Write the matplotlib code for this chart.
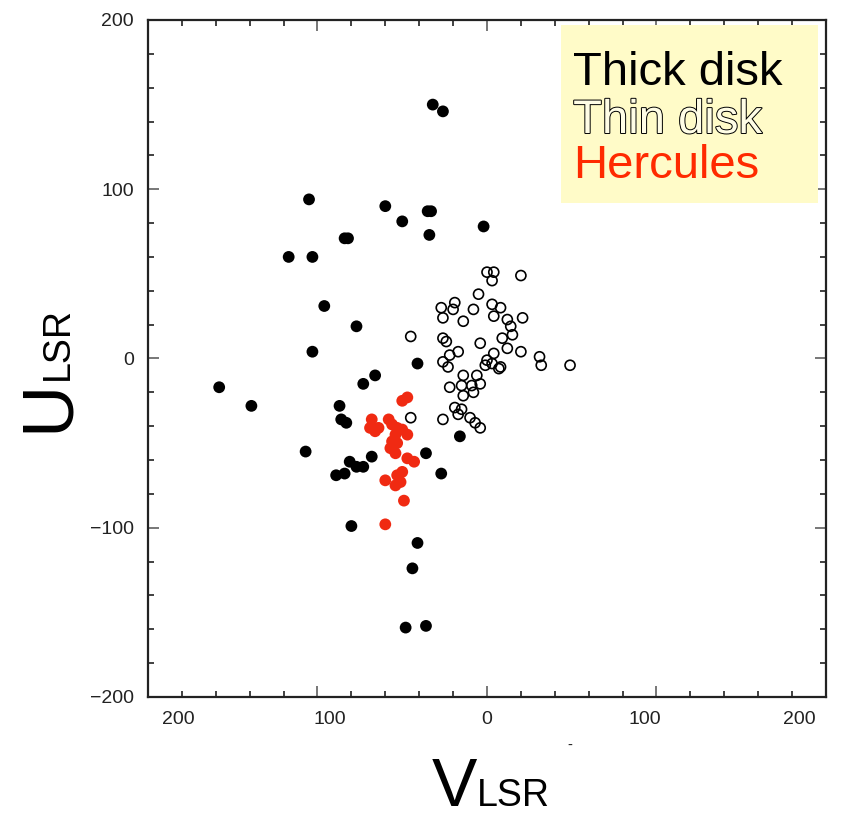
import numpy as np
import matplotlib
matplotlib.use("Agg")
import matplotlib.pyplot as plt
import matplotlib.patheffects as pe
from matplotlib.patches import Rectangle

# velocities (km/s) of the three stellar groups
thick_v = [-32, -26, -105, -60, -50, -35, -33, -34, -2, -84, -82, -117, -103, -96, -77,
           -103, -41, -158, -139, -87, -86, -83, -73, -66, -107, -81, -77, -73, -68, -89,
           -84, -36, -27, -16, -80, -41, -44, -48, -36]
thick_u = [150, 146, 94, 90, 81, 87, 87, 73, 78, 71, 71, 60, 60, 31, 19,
           4, -3, -17, -28, -28, -36, -38, -15, -10, -55, -61, -64, -64, -58, -69,
           -68, -56, -68, -46, -99, -109, -124, -159, -158]

thin_v = [0, 4, 3, 20, -5, -27, -19, -20, -26, -14, -8, 3, 8, 4, 12, 14, 9, 15, 21,
          -45, -26, -24, -4, 12, 20, 31, 32, 49, -17, -22, -26, -23, 4, 0, -1, 3, 7, 8,
          -14, -6, -22, -15, -9, -4, -14, -8, -19, -15, -17, -10, -7, -4, -26, -45]
thin_u = [51, 51, 46, 49, 38, 30, 33, 29, 24, 22, 29, 32, 30, 25, 23, 19, 12, 14, 24,
          13, 12, 10, 9, 6, 4, 1, -4, -4, 4, 2, -2, -5, 3, -1, -4, -3, -6, -5,
          -10, -10, -17, -16, -16, -15, -22, -20, -29, -30, -33, -35, -38, -41, -36, -35]

herc_v = [-50, -47, -68, -69, -66, -64, -58, -56, -53, -50, -47, -54, -56, -53, -57,
          -54, -47, -43, -50, -53, -54, -51, -60, -49, -60]
herc_u = [-25, -23, -36, -41, -43, -41, -36, -39, -41, -42, -45, -45, -49, -50, -53,
          -56, -59, -61, -67, -69, -75, -73, -72, -84, -98]

major_ticks = [-200, -100, 0, 100, 200]
x_tick_text = ["200", "100", "0", "100", "200"]
x_tick_spots = [-182, -93, 0, 93, 184]
y_tick_text = ["\u2212200", "\u2212100", "0", "100", "200"]

groups = ["Thick disk", "Thin disk", "Hercules"]
red = "#f02a12"

fig = plt.figure(figsize=(8.66, 8.22), dpi=100)
ax = fig.add_axes([0.1709, 0.1521, 0.7829, 0.8236])

ax.scatter(thick_v, thick_u, s=72, c="black", edgecolors="none", zorder=3)
ax.scatter(thin_v, thin_u, s=52, facecolors="none", edgecolors="black", linewidths=1.2, zorder=3)
ax.scatter(herc_v, herc_u, s=72, c=red, edgecolors="none", zorder=4)

ax.set_xlim(-200, 200)
ax.set_ylim(-200, 200)

# ticks inside on all four sides, minor every 20
ax.set_xticks(major_ticks)
ax.set_xticks(np.arange(-200, 201, 20), minor=True)
ax.set_yticks(major_ticks)
ax.set_yticks(np.arange(-200, 201, 20), minor=True)
ax.set_xticklabels([])
ax.set_yticklabels(y_tick_text)
ax.tick_params(which="both", direction="in", top=True, right=True)
ax.tick_params(which="major", length=8, width=1.4, colors="#777", labelsize=14, pad=10,
               labelcolor="#222")
ax.tick_params(which="minor", length=4, width=1.3, colors="#333")
for lab in ax.get_yticklabels():
    lab.set_family("Liberation Sans")
for sp in ax.spines.values():
    sp.set_linewidth(1.6)
    sp.set_color("#222")

# x tick labels sit a bit inward of their ticks
for pos, txt in zip(x_tick_spots, x_tick_text):
    ax.text(pos, -0.021, txt, transform=ax.get_xaxis_transform(), ha="center", va="top",
            fontsize=14, color="#222", family="Liberation Sans")

# group key in a pale yellow box
ax.add_patch(Rectangle((0.609, 0.7297), 0.379, 0.263, transform=ax.transAxes,
                       facecolor="#fffbc8", edgecolor="none", zorder=5))
key_y = [0.904, 0.833, 0.767]
ax.text(0.627, key_y[0], groups[0], transform=ax.transAxes, fontsize=34, color="black",
        family="Liberation Sans", va="baseline", zorder=6)
ax.text(0.627, key_y[1], groups[1], transform=ax.transAxes, fontsize=34, color="#fffde6",
        family="Liberation Sans", va="baseline", zorder=6,
        path_effects=[pe.withStroke(linewidth=1.4, foreground="black")])
ax.text(0.627, key_y[2], groups[2], transform=ax.transAxes, fontsize=34, color="#ff2a00",
        family="Liberation Sans", va="baseline", zorder=6)

# axis titles: big letter with a smaller LSR on the same baseline
vt = fig.text(0.4988, 0.02, "V", fontsize=49, family="Liberation Sans",
              ha="left", va="baseline")
fig.add_artist(plt.Annotation("LSR", xy=(1, 0.02), xycoords=(vt, "figure fraction"),
                              fontsize=27, family="Liberation Sans", ha="left", va="baseline"))
ut = fig.text(0.0785, 1 - 432 / 822, "U", fontsize=52, family="Liberation Sans", rotation=90,
              rotation_mode="anchor", ha="left", va="baseline")
fig.add_artist(plt.Annotation("LSR", xy=(0.0785, 1), xycoords=("figure fraction", ut),
                              fontsize=27, family="Liberation Sans", rotation=90,
                              rotation_mode="anchor", ha="left", va="baseline"))

fig.text(570 / 866, 1 - 746 / 822, "-", fontsize=10, ha="center", va="center", color="#222")

fig.savefig("out.png", dpi=100)
